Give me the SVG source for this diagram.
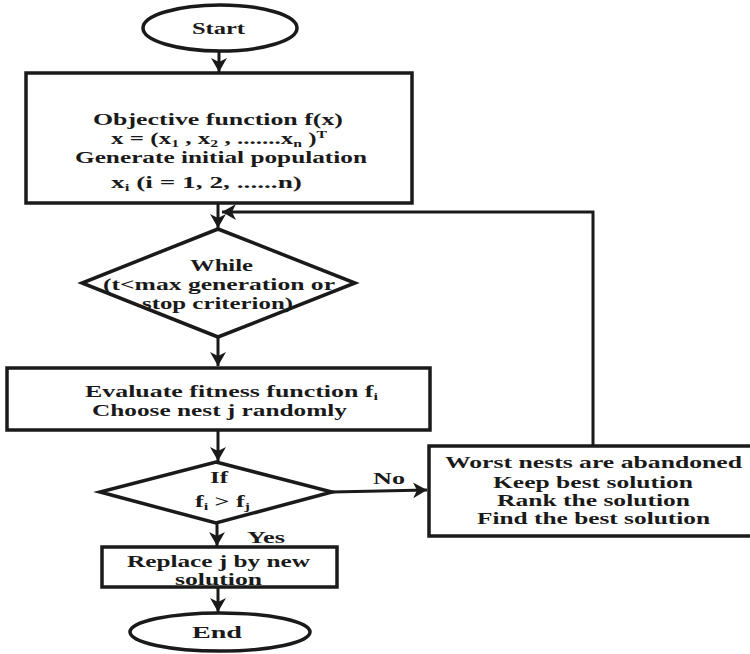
<svg xmlns="http://www.w3.org/2000/svg" width="750" height="654" viewBox="0 0 750 654">
<style>
  .shape { fill: #ffffff; stroke: #1a1a1a; stroke-width: 3.5; }
  .conn { fill: none; stroke: #1a1a1a; stroke-width: 3; }
  text { font-family: "Liberation Serif", "DejaVu Serif", "Times New Roman", serif; font-weight: bold; font-size: 16px; fill: #1a1a1a; }
  .sub { font-size: 10px; }
</style>
<defs>
  <marker id="arrow" markerUnits="userSpaceOnUse" markerWidth="16" markerHeight="16" refX="14" refY="8" orient="auto">
    <path d="M0,0 L14,8 L0,16 L4,8 Z" fill="#1a1a1a"/>
  </marker>
</defs>
<rect width="750" height="654" fill="#ffffff"/>

<g id="connectors">
  <line class="conn" x1="219" y1="52" x2="219" y2="72" marker-end="url(#arrow)"/>
  <line class="conn" x1="218" y1="204" x2="218" y2="228" marker-end="url(#arrow)"/>
  <polyline class="conn" points="593,446 593,212 222,212" marker-end="url(#arrow)"/>
  <line class="conn" x1="218" y1="337" x2="218" y2="366" marker-end="url(#arrow)"/>
  <line class="conn" x1="218" y1="431" x2="218" y2="461" marker-end="url(#arrow)"/>
  <line class="conn" x1="332" y1="492" x2="427" y2="490" marker-end="url(#arrow)"/>
  <line class="conn" x1="217" y1="523" x2="217" y2="546" marker-end="url(#arrow)"/>
  <line class="conn" x1="218" y1="588" x2="218" y2="612" marker-end="url(#arrow)"/>
  <text x="373" y="484" textLength="32" lengthAdjust="spacingAndGlyphs">No</text>
  <text x="247" y="543" textLength="38" lengthAdjust="spacingAndGlyphs">Yes</text>
</g>

<g id="start">
  <ellipse class="shape" cx="220" cy="28" rx="77" ry="23"/>
  <text x="192" y="34" textLength="53" lengthAdjust="spacingAndGlyphs">Start</text>
</g>

<g id="init">
  <rect class="shape" x="26" y="73" width="386" height="130"/>
  <text x="93" y="125" textLength="250" lengthAdjust="spacingAndGlyphs">Objective function f(x)</text>
  <text x="111" y="144" textLength="216" lengthAdjust="spacingAndGlyphs">x = (x<tspan class="sub" dy="3">1</tspan><tspan dy="-3"> , x</tspan><tspan class="sub" dy="3">2</tspan><tspan dy="-3"> , .......x</tspan><tspan class="sub" dy="3">n</tspan><tspan dy="-3"> )</tspan><tspan class="sub" dy="-6">T</tspan></text>
  <text x="75" y="163" textLength="292" lengthAdjust="spacingAndGlyphs">Generate initial population</text>
  <text x="111" y="188" textLength="191" lengthAdjust="spacingAndGlyphs">x<tspan class="sub" dy="3">i</tspan><tspan dy="-3"> (i = 1, 2, ......n)</tspan></text>
</g>

<g id="while">
  <polygon class="shape" points="218,229 355,283 218,337 82,283"/>
  <text x="190" y="271" textLength="63" lengthAdjust="spacingAndGlyphs">While</text>
  <text x="103" y="290" textLength="232" lengthAdjust="spacingAndGlyphs">(t&lt;max generation or</text>
  <text x="142" y="309" textLength="151" lengthAdjust="spacingAndGlyphs">stop criterion)</text>
</g>

<g id="evaluate">
  <rect class="shape" x="7" y="368" width="423" height="62"/>
  <text x="85" y="397" textLength="293" lengthAdjust="spacingAndGlyphs">Evaluate fitness function  f<tspan class="sub" dy="3">i</tspan></text>
  <text x="92" y="416" textLength="255" lengthAdjust="spacingAndGlyphs">Choose nest j randomly</text>
</g>

<g id="if">
  <polygon class="shape" points="216,462 332,492 216,523 100,492"/>
  <text x="210" y="483" textLength="18" lengthAdjust="spacingAndGlyphs">If</text>
  <text x="195" y="507" textLength="55" lengthAdjust="spacingAndGlyphs">f<tspan class="sub" dy="3">i</tspan><tspan dy="-3"> &gt; f</tspan><tspan class="sub" dy="3">j</tspan></text>
</g>

<g id="abandon">
  <rect class="shape" x="429" y="446" width="330" height="90"/>
  <text x="445" y="468" textLength="297" lengthAdjust="spacingAndGlyphs">Worst nests are abandoned</text>
  <text x="493" y="488" textLength="200" lengthAdjust="spacingAndGlyphs">Keep best solution</text>
  <text x="497" y="506" textLength="193" lengthAdjust="spacingAndGlyphs">Rank the solution</text>
  <text x="477" y="524" textLength="233" lengthAdjust="spacingAndGlyphs">Find the best solution</text>
</g>

<g id="replace">
  <rect class="shape" x="102" y="547" width="235" height="40"/>
  <text x="127" y="567" textLength="183" lengthAdjust="spacingAndGlyphs">Replace j by new</text>
  <text x="175" y="585" textLength="87" lengthAdjust="spacingAndGlyphs">solution</text>
</g>

<g id="end">
  <ellipse class="shape" cx="220" cy="632" rx="90" ry="19"/>
  <text x="192" y="638" textLength="50" lengthAdjust="spacingAndGlyphs">End</text>
</g>
</svg>
